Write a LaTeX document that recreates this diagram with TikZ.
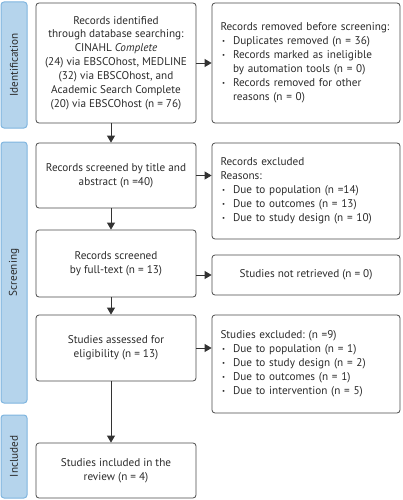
\documentclass[tikz,border=0pt]{standalone}
\usepackage{fontspec}
\setmainfont{PT Sans}
\frenchspacing
\usetikzlibrary{arrows.meta,calc}
\definecolor{boxgray}{HTML}{4A4A4A}
\definecolor{arrgray}{HTML}{333333}
\definecolor{textgray}{HTML}{2B2B2B}
\definecolor{barfill}{HTML}{B5D4EC}
\definecolor{barborder}{HTML}{7FB5DF}
\newcommand{\itm}[1]{\makebox[12.5pt][l]{\hspace{1.5pt}\raisebox{0.25ex}{\scalebox{0.6}{\textbullet}}}#1}
\newcommand{\cnt}[1]{\hspace*{12.5pt}#1}
\begin{document}
\begin{tikzpicture}[x=1pt,y=1pt,
 box/.style={draw=boxgray, line width=0.8pt, rounded corners=3pt, inner sep=0pt,
   font=\fontsize{11.2}{13.9}\selectfont, text=textgray},
 cbox/.style={box, align=center, minimum width=160pt},
 rbox/.style={box, align=left, minimum width=188pt, text width=171pt},
 bar/.style={draw=barborder, fill=barfill, line width=1pt, rounded corners=3pt,
   minimum width=26pt, inner sep=0pt},
 barlbl/.style={rotate=90, font=\fontsize{11.2}{12}\selectfont, text=textgray},
 arr/.style={draw=arrgray, line width=0.8pt, -{Triangle[length=7pt,width=8pt]}}]
\useasboundingbox (0,0) rectangle (403,-500);

% side bars
\node[bar, minimum height=126pt] (sb1) at (14,-65) {};
\node[barlbl] (sl1) at (sb1.center) {Identification};
\node[bar, minimum height=261pt] (sb2) at (14,-272.5) {};
\node[barlbl] (sl2) at (sb2.center) {Screening};
\node[bar, minimum height=83pt] (sb3) at (14,-456.5) {};
\node[barlbl] (sl3) at (sb3.center) {Included};

% left column
\node[cbox, minimum height=120pt] (b1) at (116,-63)
 {Records identified\\through database searching:\\CINAHL \textit{Complete}\\(24) via EBSCOhost, MEDLINE\\(32) via EBSCOhost, and\\Academic Search Complete\\(20) via EBSCOhost (n = 76)};
\node[cbox, minimum height=65pt] (b2) at (116,-175.5)
 {Records screened by title and\\abstract (n =40)};
\node[cbox, minimum height=67pt] (b3) at (116,-263.5)
 {Records screened\\by full-text (n = 13)};
\node[cbox, minimum height=66pt] (b4) at (116,-348)
 {Studies assessed for\\eligibility (n = 13)};
\node[cbox, minimum height=55pt] (b5) at (116,-470.5)
 {Studies included in the\\review (n = 4)};

% right column
\node[rbox, minimum height=120pt] (r1) at (306,-63)
 {Records removed before screening:\\\itm{Duplicates removed (n = 36)}\\\itm{Records marked as ineligible}\\\cnt{by automation tools (n = 0)}\\\itm{Records removed for other}\\\cnt{reasons (n = 0)}};
\node[rbox, minimum height=96pt] (r2) at (306,-191)
 {Records excluded\\Reasons:\\\itm{Due to population (n =14)}\\\itm{Due to outcomes (n = 13)}\\\itm{Due to study design (n = 10)}};
\node[box, align=center, minimum width=188pt, minimum height=40pt] (r3) at (306,-275)
 {Studies not retrieved (n = 0)};
\node[rbox, minimum height=98pt] (r4) at (306,-364)
 {Studies excluded: (n =9)\\\itm{Due to population (n = 1)}\\\itm{Due to study design (n = 2)}\\\itm{Due to outcomes (n = 1)}\\\itm{Due to intervention (n = 5)}};

% vertical arrows
\coordinate (col) at (111,0);
\draw[arr] (b1.south -| col) -- (b2.north -| col);
\draw[arr] (b2.south -| col) -- (b3.north -| col);
\draw[arr] (b3.south -| col) -- (b4.north -| col);
\draw[arr] (b4.south -| col) -- (b5.north -| col);

% horizontal arrows
\draw[arr] (b1.east) -- (b1.east -| r1.west);
\draw[arr] (b2.east) -- (b2.east -| r2.west);
\draw[arr] (r3.west -| b3.east) -- (r3.west);
\draw[arr] (b4.east) -- (b4.east -| r4.west);
\end{tikzpicture}
\end{document}
